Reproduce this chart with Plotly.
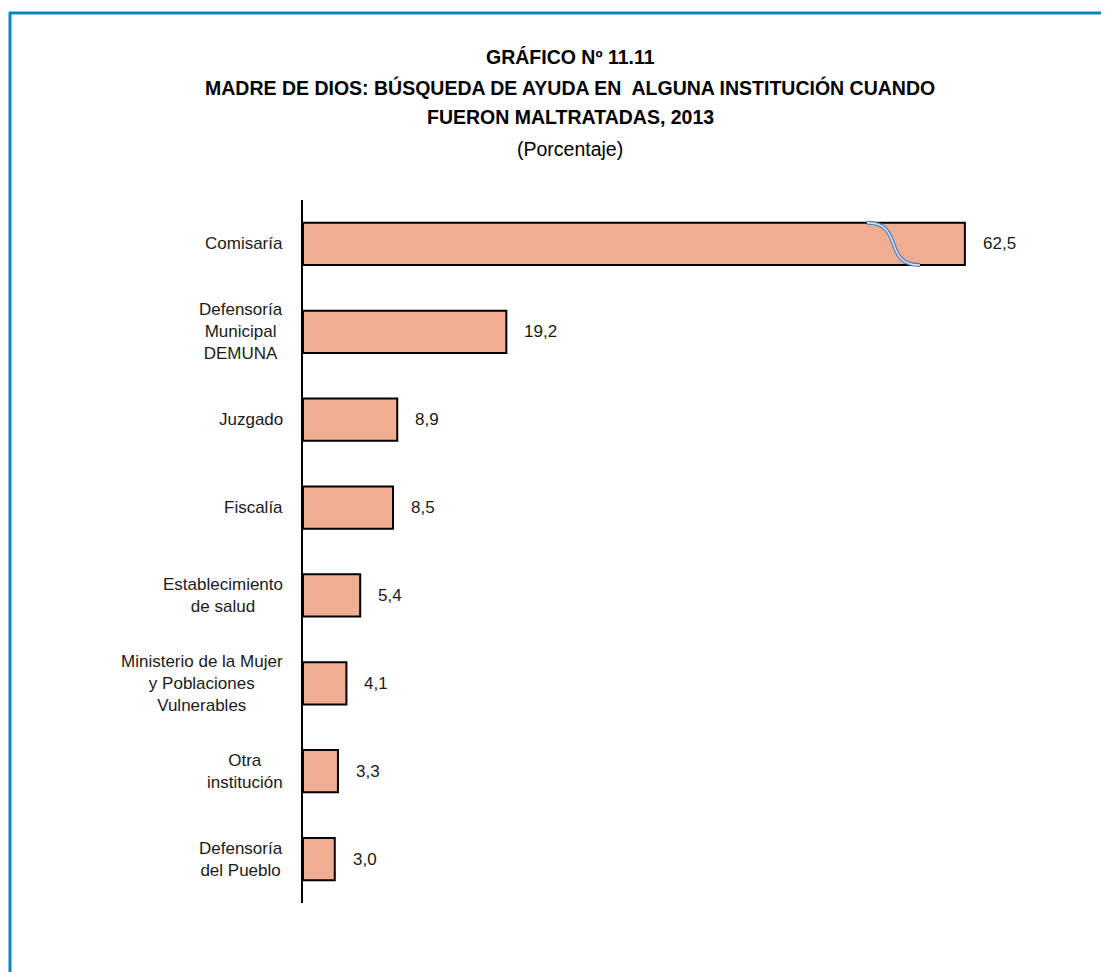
import plotly.graph_objects as go

categories = ["Comisaría", "Defensoría<br>Municipal<br>DEMUNA", "Juzgado", "Fiscalía",
              "Establecimiento<br>de salud", "Ministerio de la Mujer<br>y Poblaciones<br>Vulnerables",
              "Otra<br>institución", "Defensoría<br>del Pueblo"]
values = [62.5, 19.2, 8.9, 8.5, 5.4, 4.1, 3.3, 3.0]
title_lines = ["GRÁFICO Nº 11.11",
               "MADRE DE DIOS: BÚSQUEDA DE AYUDA EN  ALGUNA INSTITUCIÓN CUANDO",
               "FUERON MALTRATADAS, 2013"]
subtitle = "(Porcentaje)"

# page body has an 8px margin, so work in screen pixels and shift
OFF = 8
W, H = 1109 - OFF, 972 - OFF
AX_L, AX_R, AX_T, AX_B = 303, 1080, 200, 903   # plot area on screen
L, R, T, B = AX_L - OFF, 1109 - AX_R, AX_T - OFF, 972 - AX_B
FONT = "Liberation Sans, Arial, sans-serif"


def px(x):
    return (x - AX_L) / (AX_R - AX_L)


def py(y):
    return (AX_B - y) / (AX_B - AX_T)


idx = list(range(len(categories)))

fig = go.Figure()
fig.add_trace(go.Bar(x=values, y=idx, orientation="h", width=0.48,
                     marker=dict(color="#F0AD92", line=dict(color="black", width=2)),
                     hoverinfo="x"))

ann = []
for i, (c, v) in enumerate(zip(categories, values)):
    ann.append(dict(x=0, y=i, xref="x", yref="y", text=c, showarrow=False,
                    xanchor="right", align="center", xshift=-18,
                    font=dict(size=17, color="#1a1a1a")))
    ann.append(dict(x=v, y=i, xref="x", yref="y", text=f"{v:.1f}".replace(".", ","),
                    showarrow=False, xanchor="left", xshift=16,
                    font=dict(size=17, color="#1a1a1a")))

for k, (t, yy) in enumerate(zip(title_lines + [subtitle], [57, 87, 117, 149])):
    txt = f"<b>{t}</b>" if k < 3 else t
    ann.append(dict(x=px(570), y=py(yy), xref="paper", yref="paper", text=txt,
                    showarrow=False, xanchor="center", yanchor="middle",
                    font=dict(size=19.5, color="black")))

# break mark on the Comisaría bar
b0 = values[0] * 0.852
b1 = values[0] * 0.932
brk = f"M {b0},{-0.24} C {b0 + 3.6},{-0.24} {b1 - 3.6},{0.24} {b1},{0.24}"
shapes = [
    dict(type="path", path=brk, xref="x", yref="y", line=dict(color="#4F81BD", width=4)),
    dict(type="path", path=brk, xref="x", yref="y", line=dict(color="#DCE6F2", width=1.5)),
    # frame
    dict(type="line", xref="paper", yref="paper", x0=px(9), x1=px(1115), y0=py(13), y1=py(13),
         line=dict(color="#0C85C0", width=3)),
    dict(type="line", xref="paper", yref="paper", x0=px(10), x1=px(10), y0=py(12), y1=py(980),
         line=dict(color="#0C85C0", width=3)),
]

fig.update_layout(
    width=W, height=H,
    margin=dict(l=L, r=R, t=T, b=B),
    paper_bgcolor="white", plot_bgcolor="white",
    font=dict(family=FONT),
    showlegend=False,
    annotations=ann,
    shapes=shapes,
)
fig.update_xaxes(range=[0, (AX_R - AX_L) / 10.59], visible=False)
fig.update_yaxes(range=[7.5, -0.5], showticklabels=False, showgrid=False, zeroline=False,
                 showline=True, linecolor="black", linewidth=1.5, ticks="")

fig.write_html("out.html")
